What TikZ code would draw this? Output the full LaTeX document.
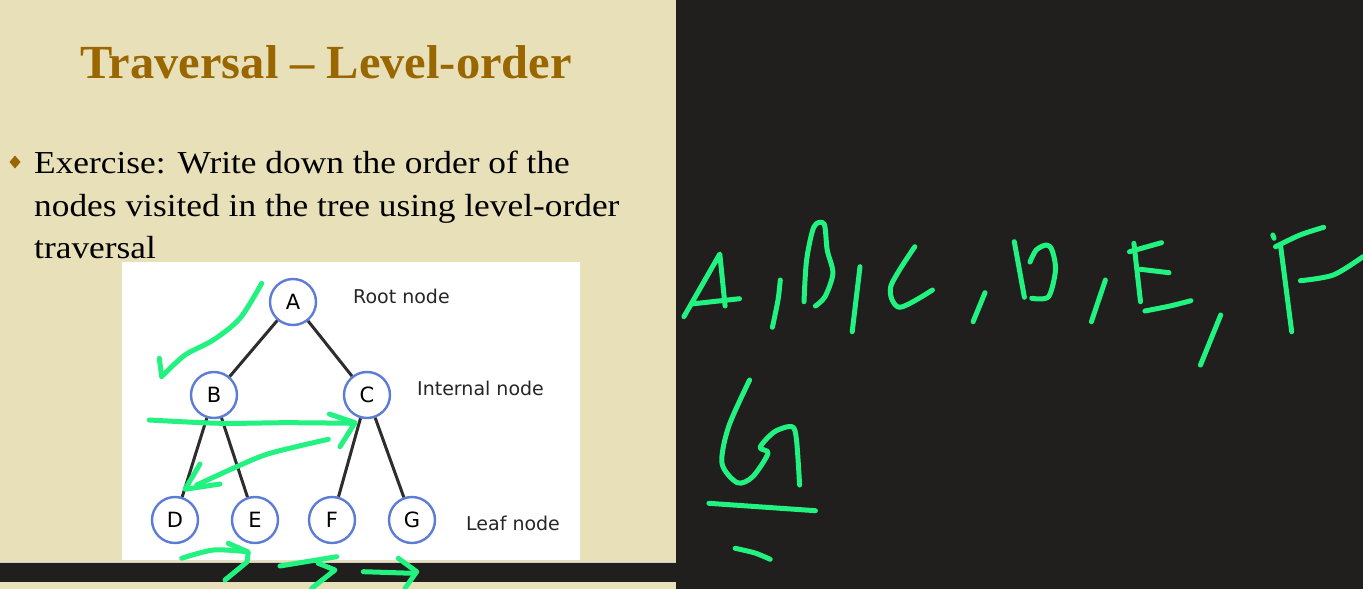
\documentclass[tikz,border=0pt]{standalone}
\usepackage{fontspec}
\setmainfont{Liberation Serif}
\newfontfamily\bodyfont[FakeStretch=1.105,Ligatures=TeX]{Liberation Serif}
\newfontfamily\titlefont[FakeStretch=1.02,Ligatures=TeX]{Liberation Serif}
\newfontfamily\treefont{DejaVu Sans}
\begin{document}
\begin{tikzpicture}[x=1pt,y=-1pt,
  tnode/.style={circle,draw=treeblue,line width=2.4pt,fill=white,minimum size=46pt,inner sep=0pt,font=\treefont\fontsize{21}{21}\selectfont},
  tedge/.style={draw=edgegray,line width=3pt},
  tlabel/.style={anchor=west,inner sep=0pt,font=\treefont\fontsize{19}{19}\selectfont,text=black!85},
  ink/.style={draw=inkgreen,line width=5pt,line cap=round,line join=round},
  bodytext/.style={anchor=base west,inner sep=0pt,font=\bodyfont\fontsize{32}{40}\selectfont}]
\definecolor{slidebg}{RGB}{232,224,185}
\definecolor{darkbg}{RGB}{32,31,30}
\definecolor{titlebrown}{RGB}{153,102,0}
\definecolor{treeblue}{RGB}{92,124,214}
\definecolor{edgegray}{RGB}{45,45,45}
\definecolor{inkgreen}{RGB}{34,242,128}
\useasboundingbox (0,0) rectangle (1363,589);
% backgrounds
\fill[darkbg] (0,0) rectangle (1363,589);
\fill[slidebg] (0,0) rectangle (676,589);
\fill[darkbg] (0,563) rectangle (676,582);
\draw[gray!40,line width=0.8pt] (0,562.5) -- (676,562.5);
% title and bullet text
\node[anchor=base,inner sep=0pt,text=titlebrown,font=\titlefont\bfseries\fontsize{47.5}{47.5}\selectfont] (title) at (326,78) {Traversal – Level-order};
\fill[titlebrown] (15,155.5) -- (20.5,162) -- (15,168.5) -- (9.5,162) -- cycle;
\node[bodytext] (l1) at (34,173) {Exercise: Write down the order of the};
\node[bodytext] (l2) at (34,216) {nodes visited in the tree using level-order};
\node[bodytext] (l3) at (34,258) {traversal};
% tree picture
\fill[white] (122,262) rectangle (580,560);
\node[tnode] (A) at (293,302) {A};
\node[tnode] (B) at (214,395) {B};
\node[tnode] (C) at (367,395) {C};
\node[tnode] (D) at (175,520) {D};
\node[tnode] (E) at (255,520) {E};
\node[tnode] (F) at (332,520) {F};
\node[tnode] (G) at (412,520) {G};
\draw[tedge] (A) -- (B);
\draw[tedge] (A) -- (C);
\draw[tedge] (B) -- (D);
\draw[tedge] (B) -- (E);
\draw[tedge] (C) -- (F);
\draw[tedge] (C) -- (G);
\node[tlabel] (root) at (353,296) {Root node};
\node[tlabel] (internal) at (417,388) {Internal node};
\node[tlabel] (leaf) at (466,523) {Leaf node};
% ink over the tree
\draw[ink] plot[smooth] coordinates {(261.7,283.3) (240,318.3) (213.3,340) (185,355) (163.3,375)};
\draw[ink] (159.3,358.3) -- (161.7,376.7);
\draw[ink] plot[smooth] coordinates {(149.3,420) (220,423.3) (286.7,422.7) (353.3,423.3)};
\draw[ink] (329.3,414) -- (355,422.7) -- (340,446.7);
\draw[ink] plot[smooth] coordinates {(328.3,439.3) (270,453.3) (236.7,466.7) (196.7,485)};
\draw[ink] (200,464) -- (185,489.3) -- (220,484);
\draw[ink] plot[smooth] coordinates {(181.7,558.3) (213.3,550) (246.7,551.7)};
\draw[ink] (228.3,543.3) -- (248.3,552) -- (247,562) -- (225,580);
\draw[ink] (280,566) -- (336.7,556.7);
\draw[ink] (318.3,563.3) -- (335,570) -- (311.7,588.3);
\draw[ink] (363.3,571.7) -- (413.3,573.3);
\draw[ink] (398.3,558.3) -- (416.7,571.7) -- (405,588.3);
% handwritten answer
\draw[ink] (683.9,316.7) -- (719.8,254) -- (725.1,306);
\draw[ink] (691.3,304) -- (739.5,298.7);
\draw[ink] plot[smooth] coordinates {(780.3,280) (778,300) (772.4,327.3)};
\draw[ink] plot[smooth] coordinates {(804,301.7) (806.6,260) (814,226.7) (824.1,224) (827.2,250) (832.9,273.3) (825,296.7) (815.4,306)};
\draw[ink] (860,266.7) -- (852.2,331.7);
\draw[ink] plot[smooth] coordinates {(914.8,246.7) (890.7,286.7) (899.5,307.3) (932.4,290)};
\draw[ink] (985,292.7) -- (973.1,321.7);
\draw[ink] (1014.3,241.7) -- (1024.4,297.3);
\draw[ink] plot[smooth] coordinates {(1031.8,298.3) (1048.5,296.7) (1055.5,270) (1052,250) (1046.3,245) (1036.2,250) (1030,262)};
\draw[ink] (1105.4,280) -- (1091.4,321.7);
\draw[ink] (1133.9,243.3) -- (1140.5,301.7);
\draw[ink] (1129.5,251.7) -- (1161.5,242.7);
\draw[ink] (1140.5,269.3) -- (1169,272.7);
\draw[ink] plot[smooth] coordinates {(1144.9,311) (1170,306) (1190.9,300.7)};
\draw[ink] (1220.7,315) -- (1200.5,365);
\draw[ink] (1272.8,235) -- (1274.1,238.3);
\draw[ink] plot[smooth] coordinates {(1275.5,246.7) (1300,235) (1323.7,227.3)};
\draw[ink] (1280.7,246.7) -- (1291.7,331.7);
\draw[ink] plot[smooth] coordinates {(1300.4,280.7) (1333.3,275) (1363,256.7)};
\draw[ink] plot[smooth] coordinates {(749.6,380) (728.6,426.7) (722,463.3) (737.3,482.7) (752.7,476.7) (768,453.3) (760.1,447.3) (774.6,431.7) (792.1,426.7) (796.5,440) (799.6,485)};
\draw[ink] (708.9,503.3) -- (815.4,510.7);
\draw[ink] plot[smooth] coordinates {(735.2,548.3) (755,553) (770.2,559.3)};
\end{tikzpicture}
\end{document}
